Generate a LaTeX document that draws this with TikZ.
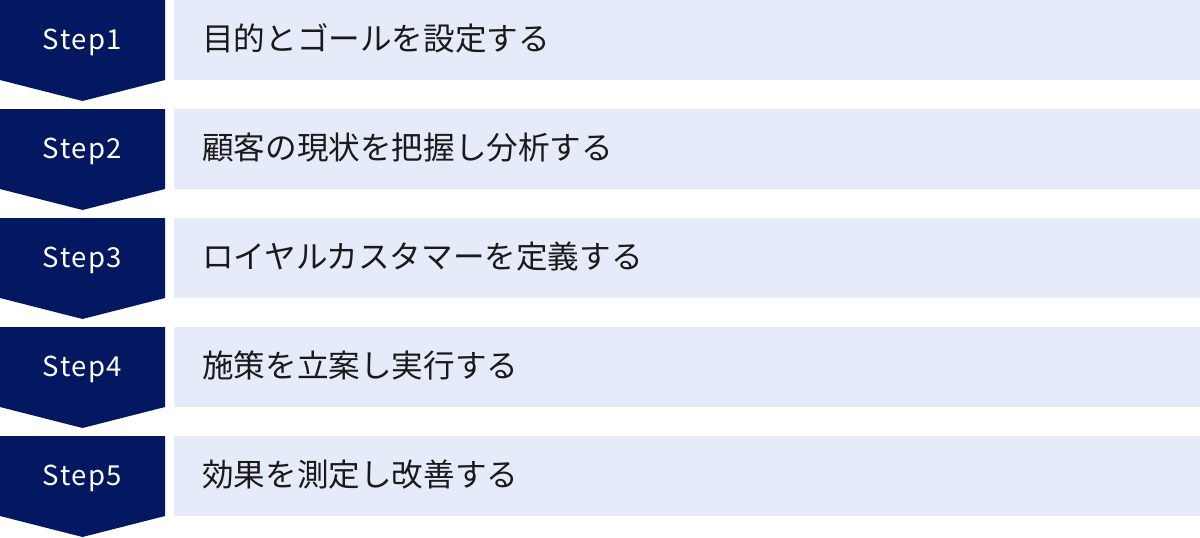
\documentclass[tikz,border=0pt]{standalone}
\usepackage{fontspec}
\setmainfont{Noto Sans CJK JP}
\newfontfamily\stepfont[LetterSpace=5.5]{Noto Sans CJK JP}
\definecolor{navy}{RGB}{4,24,98}
\definecolor{lightbg}{RGB}{229,235,248}
\definecolor{txt}{RGB}{26,26,26}
\tikzset{
  stepshape/.style={fill=navy, draw=none},
  bar/.style={fill=lightbg, draw=none},
  steplabel/.style={text=white, font=\stepfont\fontsize{27.5}{27.5}\selectfont, inner sep=0pt, anchor=base},
  barlabel/.style={text=txt, font=\fontsize{31.6}{31.6}\selectfont, inner sep=0pt, anchor=base west},
}
\begin{document}
\begin{tikzpicture}[x=1pt,y=-1pt]
\useasboundingbox (0,0) rectangle (1200,538);
\foreach \i/\t in {0/目的とゴールを設定する,1/顧客の現状を把握し分析する,2/ロイヤルカスタマーを定義する,3/施策を立案し実行する,4/効果を測定し改善する}{
  \pgfmathsetmacro{\y}{109*\i}
  \pgfmathtruncatemacro{\n}{\i+1}
  \fill[stepshape] (0,\y) -- (165,\y) -- (165,\y+80) -- (82.5,\y+101) -- (0,\y+80) -- cycle;
  \fill[bar] (174,\y) rectangle (1200,\y+80);
  \node[steplabel] (s\n) at (82.5,\y+49.3) {Step\n};
  \node[barlabel] (t\n) at (202,\y+50.3) {\t};
}
\end{tikzpicture}
\end{document}
